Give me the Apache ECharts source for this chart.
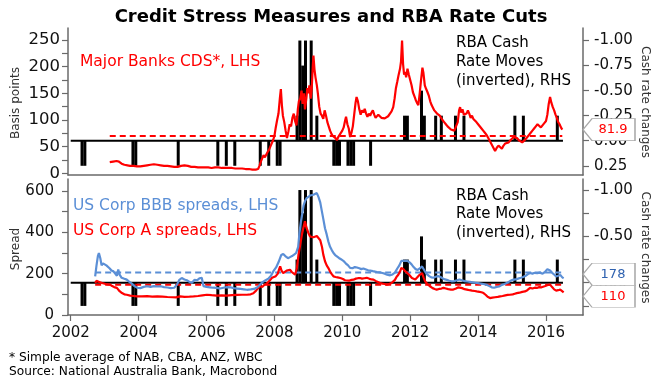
<!DOCTYPE html>
<html>
<head>
<meta charset="utf-8">
<script src="https://cdn.jsdelivr.net/npm/echarts@6/dist/echarts.min.js"></script>
<style>
  html, body { margin: 0; padding: 0; background: #fff; }
  #chart { width: 651px; height: 380px; }
</style>
</head>
<body>
<div id="chart"></div>
<script>
// ---- Data -----------------------------------------------------------------
// Time is in decimal years.
const yearTicks = [2002, 2004, 2006, 2008, 2010, 2012, 2014, 2016];

// Average of major Australian bank 5y CDS (basis points)
const cdsSeries = [
  [2003.15,21],[2003.25,22],[2003.35,23],[2003.42,22],[2003.5,18],[2003.58,16],[2003.67,15],[2003.75,14],
  [2003.85,14],[2003.95,13],[2004.05,13],[2004.15,14],[2004.25,15],[2004.35,16],[2004.45,17],[2004.55,16],
  [2004.65,15],[2004.75,14],[2004.85,14],[2004.95,13],[2005.05,12],[2005.15,12],[2005.25,14],[2005.35,15],
  [2005.45,14],[2005.55,12],[2005.65,12],[2005.75,11],[2005.85,11],[2005.95,11],[2006.05,11],[2006.15,10],
  [2006.25,11],[2006.35,11],[2006.45,10],[2006.55,10],[2006.65,10],[2006.75,10],[2006.85,9],[2006.95,9],
  [2007.05,9],[2007.15,8],[2007.25,8],[2007.35,7],[2007.45,7],[2007.52,8],
  [2007.56,14],[2007.6,22],[2007.64,28],[2007.68,34],[2007.72,30],[2007.76,33],[2007.8,40],[2007.84,44],
  [2007.88,50],[2007.92,47],[2007.96,62],[2008.0,70],[2008.04,86],[2008.08,100],[2008.12,112],[2008.16,140],
  [2008.19,158],[2008.22,128],[2008.25,108],[2008.29,96],[2008.33,80],[2008.37,66],[2008.41,78],[2008.45,92],
  [2008.49,88],[2008.53,104],[2008.57,112],[2008.61,98],[2008.65,90],[2008.69,120],[2008.72,135],[2008.76,140],
  [2008.8,155],[2008.83,130],[2008.87,150],[2008.9,120],[2008.94,140],[2008.97,160],[2009.0,150],[2009.03,165],
  [2009.07,140],[2009.1,160],[2009.13,200],[2009.15,221],[2009.18,195],[2009.21,180],[2009.25,165],[2009.28,150],
  [2009.32,125],[2009.36,112],[2009.4,108],[2009.44,102],[2009.48,118],[2009.52,108],[2009.56,96],[2009.6,88],
  [2009.64,80],[2009.68,74],[2009.72,70],[2009.76,72],[2009.8,66],[2009.84,62],[2009.88,68],[2009.92,72],
  [2009.96,74],[2010.0,80],[2010.04,86],[2010.08,98],[2010.11,106],[2010.15,92],[2010.19,84],[2010.23,68],
  [2010.27,76],[2010.31,88],[2010.35,110],[2010.39,132],[2010.42,143],[2010.46,135],[2010.5,120],[2010.54,110],
  [2010.58,118],[2010.62,114],[2010.66,121],[2010.7,112],[2010.74,106],[2010.78,112],[2010.82,108],[2010.86,114],
  [2010.9,118],[2010.94,110],[2010.98,104],[2011.02,106],[2011.06,110],[2011.1,108],[2011.15,104],[2011.2,106],
  [2011.25,103],[2011.3,105],[2011.35,107],[2011.4,110],[2011.45,116],[2011.5,124],[2011.54,140],[2011.58,160],
  [2011.62,172],[2011.66,185],[2011.7,196],[2011.73,210],[2011.76,249],[2011.79,205],[2011.82,185],[2011.85,190],
  [2011.88,180],[2011.92,196],[2011.96,185],[2012.0,175],[2012.04,165],[2012.08,152],[2012.12,145],[2012.16,138],
  [2012.2,132],[2012.24,128],[2012.28,150],[2012.32,175],[2012.36,198],[2012.39,188],[2012.43,165],[2012.47,158],
  [2012.51,152],[2012.55,145],[2012.59,135],[2012.63,128],[2012.67,126],[2012.71,118],[2012.75,115],[2012.79,112],
  [2012.83,110],[2012.87,108],[2012.91,106],[2012.95,100],[2013.0,96],[2013.05,92],[2013.1,88],[2013.15,86],
  [2013.2,82],[2013.25,84],[2013.3,80],[2013.35,78],[2013.4,96],[2013.44,118],[2013.47,124],[2013.5,114],
  [2013.54,120],[2013.58,110],[2013.62,108],[2013.66,112],[2013.7,118],[2013.74,112],[2013.78,104],[2013.82,108],
  [2013.86,102],[2013.9,104],[2013.95,96],[2014.0,92],[2014.05,90],[2014.1,84],[2014.15,80],[2014.2,76],
  [2014.25,72],[2014.3,66],[2014.35,60],[2014.4,54],[2014.45,48],[2014.5,42],[2014.55,48],[2014.6,52],
  [2014.65,50],[2014.7,46],[2014.75,52],[2014.8,56],[2014.85,55],[2014.9,58],[2014.95,62],[2015.0,64],
  [2015.05,68],[2015.1,70],[2015.15,66],[2015.2,62],[2015.25,60],[2015.3,58],[2015.35,61],[2015.4,64],
  [2015.45,68],[2015.5,72],[2015.55,76],[2015.6,80],[2015.65,84],[2015.7,88],[2015.75,92],[2015.8,90],
  [2015.85,86],[2015.9,88],[2015.95,94],[2016.0,98],[2016.04,110],[2016.08,130],[2016.12,143],[2016.16,132],
  [2016.2,124],[2016.24,118],[2016.28,110],[2016.32,104],[2016.36,96],[2016.4,92],[2016.44,86],[2016.48,81.9]
];

// US corporate BBB spreads (bp)
const bbbSeries = [
  [2002.72,187],[2002.76,240],[2002.8,285],[2002.83,300],[2002.87,276],[2002.91,240],[2002.95,250],[2003.0,252],
  [2003.05,240],[2003.1,235],[2003.15,225],[2003.2,215],[2003.26,211],[2003.31,200],[2003.36,190],[2003.4,220],
  [2003.44,195],[2003.5,180],[2003.58,175],[2003.65,171],[2003.72,162],[2003.8,152],[2003.88,140],[2003.95,132],
  [2004.05,130],[2004.15,136],[2004.25,139],[2004.35,136],[2004.45,140],[2004.55,138],[2004.65,139],[2004.75,135],
  [2004.85,133],[2004.95,130],[2005.05,132],[2005.13,147],[2005.2,170],[2005.27,179],[2005.35,172],[2005.42,168],
  [2005.5,160],[2005.57,156],[2005.65,170],[2005.72,168],[2005.8,178],[2005.86,180],[2005.91,140],[2006.0,136],
  [2006.1,134],[2006.2,132],[2006.3,131],[2006.4,128],[2006.5,132],[2006.6,135],[2006.7,134],[2006.8,130],
  [2006.9,128],[2007.0,126],[2007.1,124],[2007.19,122],[2007.3,124],[2007.4,126],[2007.5,134],[2007.58,148],
  [2007.66,160],[2007.74,168],[2007.82,175],[2007.9,190],[2007.97,212],[2008.05,230],[2008.12,255],[2008.2,290],
  [2008.26,295],[2008.32,285],[2008.4,275],[2008.46,280],[2008.52,285],[2008.58,292],[2008.64,300],[2008.7,330],
  [2008.74,400],[2008.78,450],[2008.82,490],[2008.86,530],[2008.9,550],[2008.95,566],[2009.0,572],[2009.05,578],
  [2009.1,575],[2009.15,582],[2009.2,588],[2009.25,590],[2009.3,570],[2009.35,545],[2009.4,500],[2009.44,465],
  [2009.49,420],[2009.54,390],[2009.59,355],[2009.64,330],[2009.69,314],[2009.74,300],[2009.79,290],[2009.84,282],
  [2009.9,276],[2009.96,270],[2010.03,262],[2010.1,250],[2010.17,240],[2010.23,228],[2010.3,226],[2010.37,232],
  [2010.43,230],[2010.5,226],[2010.56,222],[2010.62,225],[2010.7,220],[2010.76,216],[2010.82,215],[2010.9,212],
  [2010.96,210],[2011.02,208],[2011.1,206],[2011.18,203],[2011.25,200],[2011.32,195],[2011.41,192],[2011.48,196],
  [2011.55,205],[2011.62,225],[2011.68,240],[2011.74,262],[2011.78,270],[2011.82,262],[2011.86,258],[2011.92,262],
  [2011.98,255],[2012.04,245],[2012.1,232],[2012.16,222],[2012.22,218],[2012.28,225],[2012.35,235],[2012.42,215],
  [2012.49,198],[2012.56,188],[2012.62,182],[2012.68,180],[2012.75,185],[2012.82,188],[2012.88,185],[2012.95,178],
  [2013.02,172],[2013.08,170],[2013.15,166],[2013.22,163],[2013.3,164],[2013.38,168],[2013.45,172],[2013.52,168],
  [2013.6,164],[2013.68,162],[2013.76,160],[2013.84,158],[2013.92,156],[2014.0,154],[2014.08,152],[2014.16,150],
  [2014.25,146],[2014.33,140],[2014.4,134],[2014.47,132],[2014.55,136],[2014.62,138],[2014.7,146],[2014.78,150],
  [2014.86,156],[2014.94,164],[2015.02,170],[2015.1,172],[2015.18,176],[2015.26,180],[2015.33,184],[2015.4,190],
  [2015.47,198],[2015.53,203],[2015.6,200],[2015.67,204],[2015.74,202],[2015.82,205],[2015.9,200],[2015.97,208],
  [2016.04,222],[2016.08,228],[2016.12,215],[2016.18,204],[2016.24,196],[2016.3,186],[2016.36,190],[2016.42,194],
  [2016.48,182],[2016.52,178]
];

// US corporate A spreads (bp)
const corpASeries = [
  [2002.72,155],[2002.76,165],[2002.8,168],[2002.84,160],[2002.88,158],[2002.92,155],[2002.97,152],[2003.03,150],
  [2003.1,148],[2003.16,147],[2003.22,140],[2003.28,135],[2003.36,131],[2003.44,115],[2003.51,106],[2003.58,100],
  [2003.65,98],[2003.75,94],[2003.85,92],[2003.95,90],[2004.1,90],[2004.25,91],[2004.4,89],[2004.55,90],
  [2004.7,89],[2004.85,87],[2005.0,86],[2005.1,85],[2005.22,90],[2005.35,88],[2005.5,89],[2005.62,90],
  [2005.75,92],[2005.88,95],[2006.01,98],[2006.15,96],[2006.3,94],[2006.45,95],[2006.6,94],[2006.75,96],
  [2006.9,97],[2007.05,98],[2007.19,98],[2007.3,100],[2007.38,105],[2007.46,118],[2007.52,130],[2007.58,140],
  [2007.64,135],[2007.7,145],[2007.76,150],[2007.82,160],[2007.88,170],[2007.93,180],[2007.98,184],[2008.04,188],
  [2008.1,200],[2008.14,222],[2008.17,235],[2008.21,215],[2008.26,203],[2008.31,208],[2008.36,215],[2008.41,222],
  [2008.46,219],[2008.51,208],[2008.56,200],[2008.61,195],[2008.66,225],[2008.71,292],[2008.76,340],[2008.81,389],
  [2008.85,420],[2008.9,453],[2008.95,420],[2009.0,397],[2009.05,380],[2009.1,372],[2009.15,376],[2009.2,380],
  [2009.25,382],[2009.3,375],[2009.35,362],[2009.4,330],[2009.44,292],[2009.49,260],[2009.54,240],[2009.59,227],
  [2009.64,210],[2009.69,198],[2009.74,187],[2009.8,184],[2009.86,182],[2009.94,179],[2010.02,174],[2010.08,168],
  [2010.13,163],[2010.2,166],[2010.27,170],[2010.33,171],[2010.4,176],[2010.46,178],[2010.52,179],[2010.58,176],
  [2010.65,178],[2010.72,180],[2010.8,175],[2010.86,172],[2010.92,171],[2010.98,165],[2011.05,160],[2011.11,155],
  [2011.18,152],[2011.25,150],[2011.31,147],[2011.38,150],[2011.45,155],[2011.5,158],[2011.55,170],[2011.6,185],
  [2011.65,195],[2011.7,210],[2011.74,228],[2011.77,235],[2011.8,222],[2011.85,212],[2011.9,203],[2011.95,198],
  [2012.0,192],[2012.05,179],[2012.1,175],[2012.15,172],[2012.2,178],[2012.25,190],[2012.3,198],[2012.35,203],
  [2012.4,180],[2012.44,163],[2012.5,150],[2012.58,139],[2012.66,130],[2012.72,126],[2012.78,123],[2012.85,126],
  [2012.92,128],[2012.98,131],[2013.05,128],[2013.12,125],[2013.2,123],[2013.27,123],[2013.35,128],[2013.42,134],
  [2013.47,139],[2013.53,130],[2013.6,125],[2013.67,123],[2013.75,120],[2013.82,118],[2013.9,116],[2013.96,114],
  [2014.04,112],[2014.1,110],[2014.16,106],[2014.22,98],[2014.28,88],[2014.35,82],[2014.42,84],[2014.5,86],
  [2014.58,88],[2014.65,90],[2014.72,92],[2014.8,95],[2014.87,97],[2014.94,98],[2015.02,100],[2015.08,103],
  [2015.14,106],[2015.22,108],[2015.3,112],[2015.38,114],[2015.45,120],[2015.53,131],[2015.6,128],[2015.67,132],
  [2015.73,131],[2015.8,135],[2015.87,134],[2015.92,139],[2015.98,140],[2016.05,145],[2016.12,147],[2016.18,135],
  [2016.24,124],[2016.3,118],[2016.36,120],[2016.42,123],[2016.47,115],[2016.52,110]
];

// RBA cash rate decisions (month, change in percentage points)
const rbaMonths = [
  '2002-05','2002-06','2003-11','2003-12','2005-03','2006-05','2006-08','2006-11',
  '2007-08','2007-11','2008-02','2008-03','2008-09','2008-10','2008-11','2008-12',
  '2009-02','2009-04','2009-10','2009-11','2009-12','2010-03','2010-04','2010-05',
  '2010-11','2011-11','2011-12','2012-05','2012-06','2012-10','2012-12','2013-05',
  '2013-08','2015-02','2015-05','2016-05'
];
const rbaChanges = [
  0.25, 0.25, 0.25, 0.25, 0.25, 0.25, 0.25, 0.25,
  0.25, 0.25, 0.25, 0.25, -0.25, -1.00, -0.75, -1.00,
  -1.00, -0.25, 0.25, 0.25, 0.25, 0.25, 0.25, 0.25,
  0.25, -0.25, -0.25, -0.50, -0.25, -0.25, -0.25, -0.25,
  -0.25, -0.25, -0.25, -0.25
];

// Full-period averages shown as dashed reference lines
const cdsAverage = 70;
const bbbAverage = 206;
const corpAAverage = 146;

// Extent of the cash-rate zero line
const zeroLineSpan = [2002.0, 2016.5];

const bpTicks = [0, 25, 50, 75, 100, 125, 150, 175, 200, 225, 250];
const bpLabels = [0, 50, 100, 150, 200, 250];
const spreadTicks = [0, 100, 200, 300, 400, 500, 600];
const spreadLabels = [0, 200, 400, 600];
const cashTicks = [-1, -0.75, -0.5, -0.25, 0, 0.25];
const cashLabelsTop = [-1, -0.75, -0.5, -0.25, 0, 0.25];
const cashLabelsBottom = [-1, -0.5, 0];

// ---- Chart ----------------------------------------------------------------
const FONT = "'DejaVu Sans', sans-serif";
const RED = '#ff0000';
const BLUE = '#5b8fd6';
const AXIS = '#6a6a6a';
const X_MIN = 2001.92, X_MAX = 2017.09;

const rbaBars = rbaMonths.map((m, i) => {
  const [y, mo] = m.split('-').map(Number);
  return [y + (mo - 1) / 12, rbaChanges[i]];
});

function avgLine(series, value) {
  return [[series[0][0], value], [series[series.length - 1][0], value]];
}
const lastOf = s => s[s.length - 1][1];

function callout(value, textColor, dy) {
  return {
    silent: true,
    z: 10,
    symbol: 'path://M0,11L9,0L52,0L52,22L9,22Z',
    symbolSize: [52, 22],
    itemStyle: { color: '#ffffff', borderColor: '#a8a8a8', borderWidth: 1 },
    label: {
      show: true, position: 'inside', offset: [4, 0],
      color: textColor, fontFamily: FONT, fontSize: 13,
      formatter: String(value)
    },
    data: [{ coord: [X_MAX, value], symbolOffset: ['50%', dy] }]
  };
}

const xAxisBase = {
  type: 'value', min: X_MIN, max: X_MAX,
  splitLine: { show: false },
  axisLine: { show: true, onZero: false, lineStyle: { color: AXIS, width: 1.5 } }
};

function cashAxis(grid, min, max, labels) {
  return {
    gridIndex: grid, type: 'value', position: 'right', inverse: true,
    min: min, max: max,
    splitLine: { show: false },
    axisLine: { show: true, onZero: false, lineStyle: { color: AXIS, width: 1.5 } },
    axisTick: { show: true, length: 6, customValues: cashTicks, lineStyle: { color: AXIS, width: 1.2 } },
    axisLabel: {
      customValues: labels, margin: 11, color: '#111', fontFamily: FONT, fontSize: 15,
      formatter: v => v.toFixed(2)
    }
  };
}

const barStyle = { color: '#000' };
const chart = echarts.init(document.getElementById('chart'));
chart.setOption({
  animation: false,
  backgroundColor: '#ffffff',
  grid: [
    { left: 68, top: 28, width: 515, height: 147 },
    { left: 68, top: 179, width: 515, height: 136 }
  ],
  xAxis: [
    Object.assign({ gridIndex: 0, axisTick: { show: false }, axisLabel: { show: false } }, xAxisBase),
    Object.assign({
      gridIndex: 1,
      axisTick: { show: true, length: 6, customValues: yearTicks, lineStyle: { color: AXIS, width: 1.2 } },
      axisLabel: { customValues: yearTicks, margin: 11, color: '#111', fontFamily: FONT, fontSize: 15,
                   formatter: v => String(Math.round(v)) }
    }, xAxisBase)
  ],
  yAxis: [
    {
      gridIndex: 0, type: 'value', position: 'left', min: -3.2, max: 272.5,
      splitLine: { show: false },
      axisLine: { show: true, onZero: false, lineStyle: { color: AXIS, width: 1.5 } },
      axisTick: { show: true, length: 6, customValues: bpTicks, lineStyle: { color: AXIS, width: 1.2 } },
      axisLabel: { customValues: bpLabels, margin: 8, color: '#111', fontFamily: FONT, fontSize: 16.5 }
    },
    cashAxis(0, -1.125, 0.342, cashLabelsTop),
    {
      gridIndex: 1, type: 'value', position: 'left', min: 0, max: 658,
      splitLine: { show: false },
      axisLine: { show: true, onZero: false, lineStyle: { color: AXIS, width: 1.5 } },
      axisTick: { show: true, length: 6, customValues: spreadTicks, lineStyle: { color: AXIS, width: 1.2 } },
      axisLabel: { customValues: spreadLabels, margin: 14, color: '#111', fontFamily: FONT, fontSize: 15 }
    },
    cashAxis(1, -1.119, 0.348, cashLabelsBottom)
  ],
  series: [
    // Top panel
    { type: 'bar', xAxisIndex: 0, yAxisIndex: 1, data: rbaBars, barWidth: 3,
      itemStyle: barStyle, silent: true },
    { type: 'line', xAxisIndex: 0, yAxisIndex: 1, data: zeroLineSpan.map(x => [x, 0]),
      symbol: 'none', lineStyle: { color: '#000', width: 1.8 }, silent: true },
    { type: 'line', xAxisIndex: 0, yAxisIndex: 0, data: avgLine(cdsSeries, cdsAverage),
      symbol: 'none', lineStyle: { color: RED, width: 2, type: [6, 4] }, silent: true },
    { type: 'line', xAxisIndex: 0, yAxisIndex: 0, data: cdsSeries,
      symbol: 'none', lineStyle: { color: RED, width: 2.2 }, silent: true,
      markPoint: callout(lastOf(cdsSeries), RED, 0) },

    // Bottom panel
    { type: 'bar', xAxisIndex: 1, yAxisIndex: 3, data: rbaBars, barWidth: 3,
      itemStyle: barStyle, silent: true },
    { type: 'line', xAxisIndex: 1, yAxisIndex: 3, data: zeroLineSpan.map(x => [x, 0]),
      symbol: 'none', lineStyle: { color: '#000', width: 1.8 }, silent: true },
    { type: 'line', xAxisIndex: 1, yAxisIndex: 2, data: avgLine(bbbSeries, bbbAverage),
      symbol: 'none', lineStyle: { color: BLUE, width: 2, type: [6, 4] }, silent: true },
    { type: 'line', xAxisIndex: 1, yAxisIndex: 2, data: avgLine(corpASeries, corpAAverage),
      symbol: 'none', lineStyle: { color: RED, width: 2, type: [6, 4] }, silent: true },
    { type: 'line', xAxisIndex: 1, yAxisIndex: 2, data: corpASeries,
      symbol: 'none', lineStyle: { color: RED, width: 2.2 }, silent: true,
      markPoint: callout(lastOf(corpASeries), RED, 4) },
    { type: 'line', xAxisIndex: 1, yAxisIndex: 2, data: bbbSeries,
      symbol: 'none', lineStyle: { color: BLUE, width: 2.2 }, silent: true,
      markPoint: callout(lastOf(bbbSeries), '#2f62b0', -4) }
  ],
  graphic: [
    { type: 'text', x: 331, y: 17, style: { text: 'Credit Stress Measures and RBA Rate Cuts',
      font: "bold 18px 'DejaVu Sans', sans-serif", fill: '#000', align: 'center', verticalAlign: 'middle' } },
    { type: 'text', x: 80, y: 62, style: { text: 'Major Banks CDS*, LHS',
      font: "15.5px 'DejaVu Sans', sans-serif", fill: RED, align: 'left', verticalAlign: 'middle' } },
    { type: 'text', x: 456, y: 34, style: { text: 'RBA Cash\nRate Moves\n(inverted), RHS', lineHeight: 19,
      font: "15px 'DejaVu Sans', sans-serif", fill: '#000', align: 'left', verticalAlign: 'top' } },
    { type: 'text', x: 456, y: 186.5, style: { text: 'RBA Cash\nRate Moves\n(inverted), RHS', lineHeight: 18.7,
      font: "15px 'DejaVu Sans', sans-serif", fill: '#000', align: 'left', verticalAlign: 'top' } },
    { type: 'text', x: 73, y: 205.5, style: { text: 'US Corp BBB spreads, LHS',
      font: "15.5px 'DejaVu Sans', sans-serif", fill: BLUE, align: 'left', verticalAlign: 'middle' } },
    { type: 'text', x: 73, y: 231, style: { text: 'US Corp A spreads, LHS',
      font: "15.5px 'DejaVu Sans', sans-serif", fill: RED, align: 'left', verticalAlign: 'middle' } },
    { type: 'text', x: 16, y: 103, rotation: Math.PI / 2, style: { text: 'Basis points',
      font: "12px 'DejaVu Sans', sans-serif", fill: '#333', align: 'center', verticalAlign: 'middle' } },
    { type: 'text', x: 16, y: 249, rotation: Math.PI / 2, style: { text: 'Spread',
      font: "12px 'DejaVu Sans', sans-serif", fill: '#333', align: 'center', verticalAlign: 'middle' } },
    { type: 'text', x: 645, y: 102, rotation: -Math.PI / 2, style: { text: 'Cash rate changes',
      font: "12px 'DejaVu Sans', sans-serif", fill: '#333', align: 'center', verticalAlign: 'middle' } },
    { type: 'text', x: 645, y: 247.5, rotation: -Math.PI / 2, style: { text: 'Cash rate changes',
      font: "12px 'DejaVu Sans', sans-serif", fill: '#333', align: 'center', verticalAlign: 'middle' } },
    { type: 'text', x: 9, y: 358, style: { text: '* Simple average of NAB, CBA, ANZ, WBC',
      font: "12.2px 'DejaVu Sans', sans-serif", fill: '#000', align: 'left', verticalAlign: 'middle' } },
    { type: 'text', x: 9, y: 372, style: { text: 'Source: National Australia Bank, Macrobond',
      font: "12.2px 'DejaVu Sans', sans-serif", fill: '#000', align: 'left', verticalAlign: 'middle' } }
  ]
});
</script>
</body>
</html>
